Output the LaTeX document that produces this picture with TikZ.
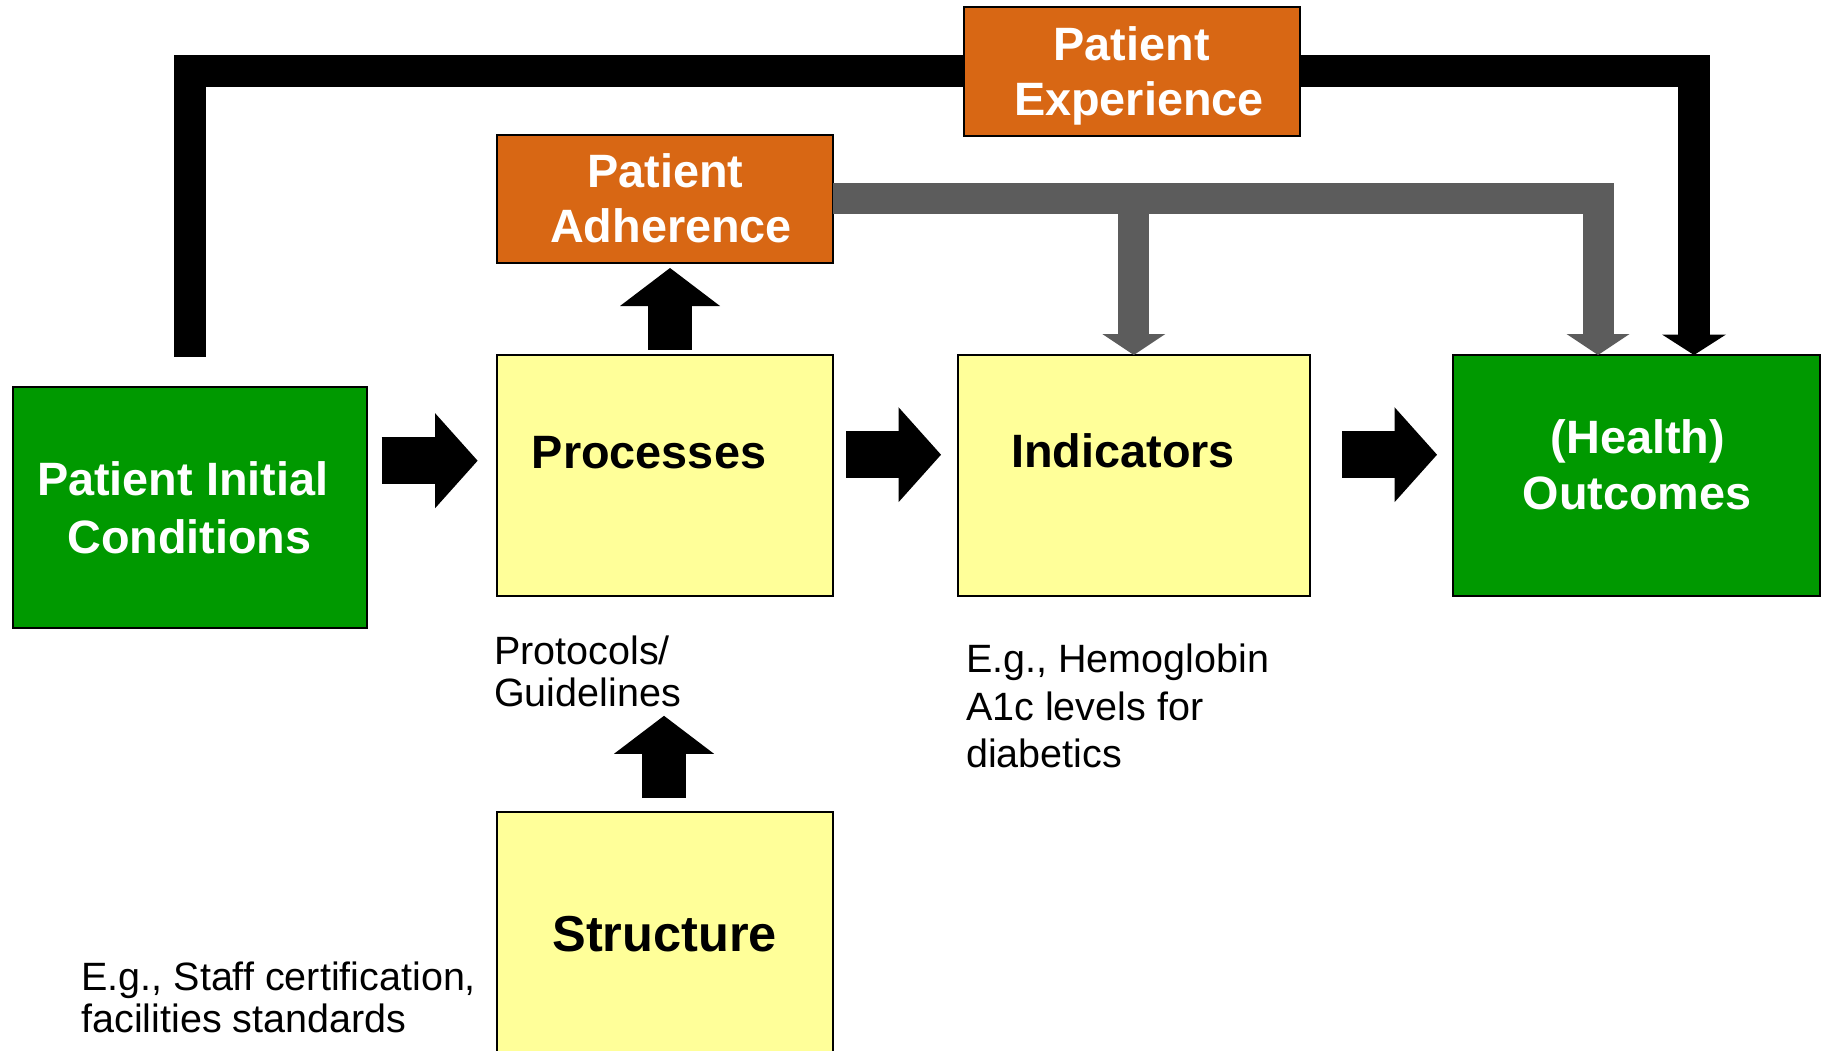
\documentclass[tikz,border=0pt]{standalone}
\usepackage{fontspec}
\setmainfont{Liberation Sans}
\usetikzlibrary{arrows.meta,calc}
\definecolor{boxgreen}{RGB}{0,153,0}
\definecolor{boxorange}{RGB}{216,103,20}
\definecolor{boxyellow}{RGB}{255,255,153}
\definecolor{bargray}{RGB}{92,92,92}
\begin{document}
\begin{tikzpicture}[x=1pt,y=-1pt,
  box/.style={draw=black,line width=2pt,rectangle,inner sep=0pt,outer sep=0pt},
  bigtxt/.style={font=\fontsize{46.8}{56}\selectfont\bfseries,inner sep=0pt,anchor=base},
  smalltxt/.style={font=\fontsize{39.5}{47}\selectfont,inner sep=0pt,anchor=base west},
  blockr/.style={draw=black,line width=47.5pt,-{Triangle[width=95pt,length=42.5pt,line width=0pt]}},
  blocku/.style={draw=black,line width=44pt,-{Triangle[width=100pt,length=38pt,line width=0pt]}},
  blackbar/.style={draw=black,line width=32pt,line join=miter,-{Triangle[width=64pt,length=20.5pt,line width=0pt]}},
  graybar/.style={draw=bargray,line width=31pt,line join=miter,-{Triangle[width=63pt,length=21pt,line width=0pt]}}
]
\useasboundingbox (0,0) rectangle (1822,1050);
\fill[white] (0,0) rectangle (1822,1050);

% boxes
\node[box,fill=boxgreen,minimum width=353.8pt,minimum height=241.1pt] (pic) at (189.7,507.25) {};
\node[box,fill=boxyellow,minimum width=336pt,minimum height=241.3pt] (proc) at (665,475.65) {};
\node[box,fill=boxyellow,minimum width=352.5pt,minimum height=241.3pt] (ind) at (1133.75,475.65) {};
\node[box,fill=boxgreen,minimum width=367pt,minimum height=241.3pt] (out) at (1636.5,475.65) {};
\node[box,fill=boxorange,minimum width=336pt,minimum height=128.4pt] (adh) at (665,198.8) {};
\node[box,fill=boxyellow,minimum width=336pt,minimum height=250pt] (str) at (665,937) {};

% black feedback connector (behind Patient Experience)
\coordinate (bk1) at (190,356.5);
\coordinate (bk2) at (190,70.8);
\coordinate (bk3) at (1694,70.8);
\draw[blackbar] (bk1) -- (bk2) -- (bk3) -- (bk3 |- out.north);

\node[box,fill=boxorange,minimum width=336pt,minimum height=128.6pt] (exp) at (1132,71.7) {};

% gray connectors from Patient Adherence
\coordinate (gy1) at (1598,198.8);
\coordinate (gy2) at (1133.75,198.8);
\draw[graybar] (adh.east) -- (gy1) -- (gy1 |- out.north);
\draw[graybar] (gy2) -- (ind.north);

% block arrows
\coordinate (r1s) at (381.7,460.7); \coordinate (r1e) at (477.6,460.7);
\coordinate (r2s) at (846,454.7);   \coordinate (r2e) at (941,454.7);
\coordinate (r3s) at (1342,454.7);  \coordinate (r3e) at (1437,454.7);
\coordinate (u1s) at (670,349.5);   \coordinate (u1e) at (670,268);
\coordinate (u2s) at (664,798);     \coordinate (u2e) at (664,715.8);
\draw[blockr] (r1s) -- (r1e);
\draw[blockr] (r2s) -- (r2e);
\draw[blockr] (r3s) -- (r3e);
\draw[blocku] (u1s) -- (u1e);
\draw[blocku] (u2s) -- (u2e);

% box labels
\node[bigtxt,white] (picA) at (182.75,495.5) {Patient Initial};
\node[bigtxt,white] (picB) at (189.4,553.5) {Conditions};
\node[bigtxt,anchor=base west] (procT) at (531.7,468.7) {Processes};
\node[bigtxt,anchor=base west] (indT) at (1011,467) {Indicators};
\node[bigtxt,white] (outA) at (1637.8,453) {(Health)};
\node[bigtxt,white] (outB) at (1637,509) {Outcomes};
\node[bigtxt,white] (adhA) at (665.4,187.5) {Patient};
\node[bigtxt,white] (adhB) at (671,242.7) {Adherence};
\node[bigtxt,white] (expA) at (1131.7,60.3) {Patient};
\node[bigtxt,white] (expB) at (1139,115.5) {Experience};
\node[bigtxt,font=\fontsize{50.5}{60}\selectfont\bfseries] (strT) at (664.7,951.8) {Structure};

% annotations
\node[smalltxt] (protA) at (494,664) {Protocols/};
\node[smalltxt] (protB) at (494,706.8) {Guidelines};
\node[smalltxt] (hbA) at (966,672.3) {E.g., Hemoglobin};
\node[smalltxt] (hbB) at (966,720) {A1c levels for};
\node[smalltxt] (hbC) at (966,767) {diabetics};
\node[smalltxt] (stA) at (81.3,990.3) {E.g., Staff certification,};
\node[smalltxt] (stB) at (81.3,1032) {facilities standards};
\end{tikzpicture}
\end{document}
